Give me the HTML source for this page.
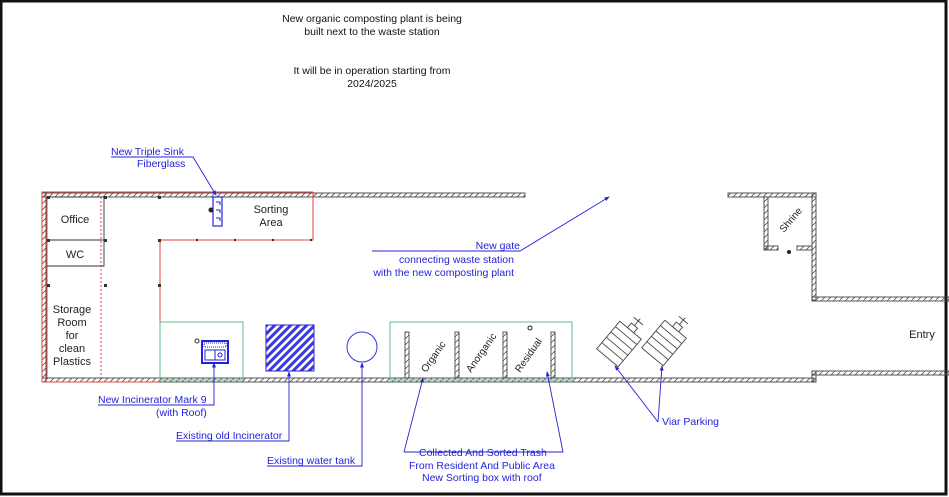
<!DOCTYPE html>
<html><head><meta charset="utf-8"><style>
html,body{margin:0;padding:0;background:#fff;}
svg{display:block;}
text{font-family:"Liberation Sans",sans-serif;}
</style></head><body>
<svg width="949" height="497" viewBox="0 0 949 497" xmlns="http://www.w3.org/2000/svg">
<defs>
<pattern id="h" width="6" height="6" patternUnits="userSpaceOnUse">
<line x1="0" y1="6" x2="6" y2="0" stroke="#555" stroke-width="0.8"/>
</pattern>
<pattern id="bh" width="8" height="8" patternUnits="userSpaceOnUse">
<rect width="8" height="8" fill="#fff"/>
<line x1="-2" y1="10" x2="10" y2="-2" stroke="#3a3ae0" stroke-width="3"/>
<line x1="-6" y1="6" x2="6" y2="-6" stroke="#3a3ae0" stroke-width="3"/>
<line x1="2" y1="14" x2="14" y2="2" stroke="#3a3ae0" stroke-width="3"/>
</pattern>
<marker id="a" markerWidth="6" markerHeight="6" refX="5" refY="3" orient="auto"><path d="M0,0.8 L6,3 L0,5.2z" fill="#2323d8"/></marker>
</defs>
<rect x="0" y="0" width="949" height="497" fill="#fff"/>
<rect x="1" y="1" width="945" height="493" fill="none" stroke="#111" stroke-width="3"/>

<g font-size="10.5" fill="#111" text-anchor="middle">
<text x="372" y="22">New organic composting plant is being</text>
<text x="372" y="35">built next to the waste station</text>
<text x="372" y="74">It will be in operation starting from</text>
<text x="372" y="87">2024/2025</text>
</g>

<g fill="url(#h)" stroke="#444" stroke-width="0.9">
<rect x="42" y="193" width="483" height="4"/>
<rect x="728" y="193" width="88" height="4"/>
<rect x="764" y="197" width="4" height="52"/>
<rect x="764" y="246" width="14" height="4"/>
<rect x="797" y="246" width="15" height="4"/>
<rect x="812" y="193" width="4" height="107"/>
<rect x="812" y="297" width="137" height="4"/>
<rect x="42" y="193" width="4" height="189"/>
<rect x="42" y="378" width="772" height="4"/>
<rect x="812" y="371" width="4" height="11"/>
<rect x="812" y="371" width="137" height="4"/>
<rect x="405" y="332" width="4" height="46"/>
<rect x="455" y="332" width="4" height="46"/>
<rect x="503" y="332" width="4" height="46"/>
<rect x="551" y="332" width="4" height="46"/>
</g>
<g fill="none" stroke="#e34040" stroke-width="1">
<polyline points="313,192 42,192 42,382 160,382"/>
<polyline points="47,197 47,378"/>
<polyline points="313,192 313,240 160,240 160,382"/>
<line x1="101" y1="197" x2="101" y2="378" stroke-dasharray="2,2"/>
</g>
<g fill="none" stroke="#333" stroke-width="0.9">
<polyline points="47,197 104,197 104,266 47,266"/>
<line x1="47" y1="240" x2="104" y2="240"/>
</g>
<g fill="#333">
<rect x="47" y="196" width="3" height="3"/><rect x="104" y="196" width="3" height="3"/><rect x="158" y="196" width="3" height="3"/>
<rect x="47" y="239" width="3" height="3"/><rect x="104" y="239" width="3" height="3"/><rect x="158" y="239" width="3" height="3"/>
<rect x="47" y="284" width="3" height="3"/><rect x="104" y="284" width="3" height="3"/><rect x="158" y="284" width="3" height="3"/>
<rect x="196" y="239" width="2" height="2"/><rect x="234" y="239" width="2" height="2"/><rect x="272" y="239" width="2" height="2"/><rect x="310" y="239" width="2" height="2"/>
</g>
<g font-size="11" fill="#222" text-anchor="middle">
<text x="75" y="223">Office</text>
<text x="75" y="258">WC</text>
<text x="72" y="313">Storage</text>
<text x="72" y="326">Room</text>
<text x="72" y="339">for</text>
<text x="72" y="352">clean</text>
<text x="72" y="365">Plastics</text>
<text x="271" y="213">Sorting</text>
<text x="271" y="226">Area</text>
<text x="922" y="338">Entry</text>
</g>
<text x="0" y="0" font-size="10" fill="#222" transform="translate(784,233) rotate(-50)">Shrine</text>
<circle cx="789" cy="252" r="2" fill="#222"/>

<rect x="213" y="197" width="9" height="29" fill="none" stroke="#2323d8" stroke-width="1.2"/>
<g stroke="#2323d8" fill="none" stroke-width="1"><path d="M216,202h4v3M216,210h4v3M216,218h4v3"/></g>
<circle cx="211" cy="210" r="2.5" fill="#222"/>

<g fill="none" stroke="#5cbf8a" stroke-width="1">
<rect x="160" y="322" width="83" height="58"/>
<rect x="390" y="322" width="182" height="58"/>
</g>
<rect x="202" y="341" width="26" height="22" fill="#fff" stroke="#2323d8" stroke-width="2"/>
<rect x="204" y="343" width="22" height="4" fill="none" stroke="#2323d8" stroke-width="1" stroke-dasharray="1,1"/>
<rect x="205" y="350" width="10" height="10" fill="none" stroke="#2323d8"/>
<rect x="215" y="350" width="10" height="10" fill="none" stroke="#2323d8"/>
<circle cx="220" cy="355" r="2" fill="none" stroke="#2323d8"/>
<circle cx="197" cy="341" r="2" fill="none" stroke="#333"/>
<rect x="266" y="325" width="48" height="46" fill="url(#bh)" stroke="#2323d8"/>
<circle cx="362" cy="347" r="15" fill="none" stroke="#3535d8"/>

<g font-size="10" fill="#222">
<text transform="translate(426,373) rotate(-55)">Organic</text>
<text transform="translate(471,373) rotate(-55)">Anorganic</text>
<text transform="translate(520,373) rotate(-55)">Residual</text>
</g>
<circle cx="530" cy="328" r="2" fill="none" stroke="#222"/>

<g fill="#fff" stroke="#444" stroke-width="0.9">
<g transform="translate(619,344) rotate(40)">
<rect x="-14" y="-18" width="28" height="36"/>
<line x1="-14" y1="-11" x2="14" y2="-11"/><line x1="-14" y1="-4" x2="14" y2="-4"/><line x1="-14" y1="3" x2="14" y2="3"/><line x1="-14" y1="10" x2="14" y2="10"/>
<rect x="-4" y="-24" width="8" height="6"/><line x1="0" y1="-24" x2="0" y2="-33"/><line x1="-6" y1="-30" x2="6" y2="-30"/>
</g>
<g transform="translate(664,343) rotate(40)">
<rect x="-14" y="-18" width="28" height="36"/>
<line x1="-14" y1="-11" x2="14" y2="-11"/><line x1="-14" y1="-4" x2="14" y2="-4"/><line x1="-14" y1="3" x2="14" y2="3"/><line x1="-14" y1="10" x2="14" y2="10"/>
<rect x="-4" y="-24" width="8" height="6"/><line x1="0" y1="-24" x2="0" y2="-33"/><line x1="-6" y1="-30" x2="6" y2="-30"/>
</g>
</g>

<g fill="none" stroke="#2323d8" stroke-width="0.9">
<polyline points="111,157 193,157 216,195" marker-end="url(#a)"/>
<polyline points="372,251 520,251 609,197" marker-end="url(#a)"/>
<polyline points="98,405 214,405 214,363" marker-end="url(#a)"/>
<polyline points="176,441 289,441 289,372" marker-end="url(#a)"/>
<polyline points="267,466 362,466 362,363" marker-end="url(#a)"/>
<polyline points="404,452 423,378" marker-end="url(#a)"/>
<polyline points="404,452 563,452 547,372" marker-end="url(#a)"/>
<polyline points="658,422 615,366" marker-end="url(#a)"/>
<polyline points="658,422 662,366" marker-end="url(#a)"/>
</g>
<g font-size="10.5" fill="#2323d8">
<text x="111" y="155">New Triple Sink</text>
<text x="137" y="167">Fiberglass</text>
<text x="520" y="249" text-anchor="end">New gate</text>
<text x="514" y="263" text-anchor="end">connecting waste station</text>
<text x="514" y="276" text-anchor="end">with the new composting plant</text>
<text x="98" y="403">New Incinerator Mark 9</text>
<text x="156" y="416">(with Roof)</text>
<text x="176" y="439">Existing old Incinerator</text>
<text x="267" y="464">Existing water tank</text>
<text x="419" y="456">Collected And Sorted Trash</text>
<text x="409" y="469">From Resident And Public Area</text>
<text x="422" y="481">New Sorting box with roof</text>
<text x="662" y="425">Viar Parking</text>
</g>
</svg>
</body></html>
